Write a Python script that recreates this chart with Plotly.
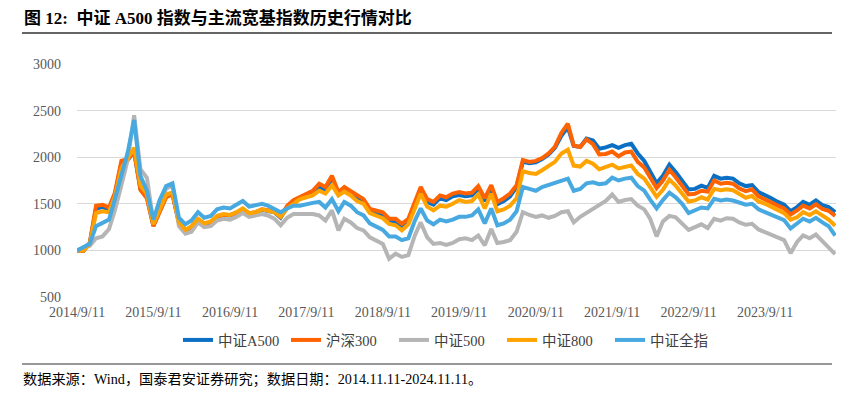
import plotly.graph_objects as go

# ---------------- data (monthly readings, normalised to 1000) ----------------
dates = [f"{2014 + (8 + i) // 12}-{(8 + i) % 12 + 1:02d}-11" for i in range(120)]

a500 = [1000, 995, 1075, 1450, 1465, 1440, 1600, 1930, 1970, 2060,
        1660, 1570, 1265, 1420, 1580, 1605, 1295, 1215, 1250, 1330,
        1285, 1300, 1360, 1380, 1375, 1400, 1440, 1395, 1405, 1435,
        1425, 1410, 1350, 1465, 1520, 1555, 1580, 1615, 1685, 1650,
        1765, 1600, 1650, 1615, 1560, 1520, 1420, 1405, 1385, 1310,
        1310, 1260, 1315, 1495, 1650, 1520, 1490, 1560, 1540, 1580,
        1595, 1580, 1590, 1660, 1530, 1670, 1495, 1530, 1580, 1680,
        1950, 1935, 1945, 1980, 2030, 2100, 2230, 2320, 2120, 2110,
        2200, 2180, 2090, 2105, 2130, 2100, 2130, 2145, 2040, 1960,
        1840, 1720, 1800, 1920, 1840, 1750, 1655, 1660, 1695, 1670,
        1800, 1770, 1780, 1770, 1720, 1690, 1700, 1625, 1595, 1560,
        1520, 1490, 1420, 1465, 1520, 1490, 1535, 1485, 1465, 1410]

hs300 = [1000, 995, 1080, 1480, 1490, 1460, 1620, 1960, 1980, 2060,
         1650, 1560, 1260, 1420, 1570, 1600, 1300, 1220, 1250, 1330,
         1290, 1300, 1360, 1380, 1380, 1400, 1440, 1400, 1410, 1440,
         1430, 1420, 1360, 1480, 1540, 1570, 1600, 1640, 1715, 1680,
         1800, 1625, 1680, 1640, 1590, 1550, 1445, 1430, 1410, 1340,
         1340, 1285, 1340, 1520, 1680, 1550, 1520, 1590, 1570, 1610,
         1625, 1610, 1620, 1690, 1560, 1700, 1520, 1560, 1610, 1700,
         1970, 1950, 1960, 1990, 2040, 2110, 2260, 2360, 2125, 2110,
         2190, 2140, 2030, 2035, 2060, 2010, 2050, 2060, 1950, 1890,
         1790, 1670, 1750, 1865, 1785, 1696, 1600, 1607, 1640, 1630,
         1750, 1715, 1725, 1715, 1665, 1635, 1655, 1580, 1550, 1520,
         1480, 1450, 1385, 1430, 1480, 1450, 1495, 1445, 1425, 1370]

csi500 = [1000, 1030, 1050, 1130, 1150, 1230, 1430, 1700, 1970, 2450,
          1870, 1780, 1300, 1480, 1660, 1700, 1260, 1180, 1200, 1300,
          1250, 1260, 1320, 1340, 1330, 1360, 1400, 1360, 1370, 1390,
          1375, 1340, 1270, 1350, 1390, 1390, 1400, 1390, 1375, 1320,
          1430, 1215, 1340, 1300, 1240, 1215, 1140, 1110, 1070, 910,
          965, 930, 950, 1160, 1300, 1140, 1070, 1080, 1060, 1080,
          1120, 1130, 1110, 1160, 1055, 1230, 1080, 1090, 1110, 1200,
          1410, 1380, 1360, 1375, 1350, 1370, 1410, 1420, 1300, 1360,
          1400, 1440, 1490, 1530, 1600, 1520, 1540, 1550, 1480, 1440,
          1340, 1150, 1310, 1370, 1355, 1286, 1220, 1250, 1280, 1240,
          1340, 1320, 1345, 1340, 1300, 1275, 1285, 1225, 1195, 1165,
          1140, 1110, 970, 1090, 1160, 1130, 1170, 1100, 1045, 960]

csi800 = [1000, 1000, 1070, 1400, 1420, 1410, 1580, 1880, 1990, 2100,
          1700, 1600, 1280, 1430, 1600, 1620, 1300, 1220, 1260, 1340,
          1290, 1310, 1370, 1390, 1380, 1410, 1450, 1400, 1410, 1440,
          1430, 1410, 1360, 1450, 1500, 1550, 1570, 1590, 1640, 1610,
          1700, 1590, 1630, 1590, 1530, 1500, 1400, 1375, 1345, 1285,
          1270, 1215, 1280, 1450, 1610, 1470, 1430, 1480, 1470, 1500,
          1540, 1520, 1530, 1600, 1450, 1610, 1420, 1440, 1480, 1560,
          1850, 1830, 1820, 1860, 1910, 1950, 2040, 2080, 1910, 1900,
          1960, 1930, 1870, 1890, 1920, 1880, 1900, 1910, 1820, 1770,
          1680, 1575, 1650, 1760, 1695, 1607, 1525, 1536, 1570, 1545,
          1660, 1645, 1655, 1645, 1605, 1565, 1585, 1525, 1500, 1465,
          1425, 1400, 1330, 1355, 1410, 1380, 1420, 1370, 1330, 1265]

csiall = [1000, 1040, 1070, 1260, 1290, 1330, 1550, 1800, 2050, 2400,
          1800, 1640, 1330, 1540, 1690, 1720, 1350, 1280, 1320, 1410,
          1350, 1370, 1440, 1460, 1450, 1490, 1530, 1470, 1480, 1500,
          1480, 1450, 1410, 1450, 1480, 1480, 1500, 1510, 1520, 1460,
          1550, 1420, 1520, 1480, 1410, 1375, 1290, 1250, 1220, 1150,
          1150, 1110, 1130, 1320, 1450, 1320, 1280, 1330, 1310, 1330,
          1360, 1360, 1375, 1440, 1290, 1450, 1270, 1290, 1330, 1420,
          1680, 1660, 1640, 1680, 1700, 1720, 1750, 1770, 1640, 1660,
          1720, 1730, 1710, 1720, 1780, 1750, 1770, 1780, 1690, 1640,
          1545, 1450, 1540, 1620, 1570, 1500, 1400, 1429, 1460, 1450,
          1553, 1536, 1545, 1535, 1510, 1490, 1500, 1440, 1410, 1380,
          1355, 1325, 1235, 1285, 1340, 1310, 1350, 1300, 1260, 1160]

series_names = ["中证A500", "沪深300", "中证500", "中证800", "中证全指"]
series_values = [a500, hs300, csi500, csi800, csiall]
series_colors = ["#0B70C4", "#FF6200", "#B5B5B5", "#FFA300", "#48A9E0"]

tick_dates = [f"{y}-09-11" for y in range(2014, 2024)]
tick_text = [f"{y}/9/11" for y in range(2014, 2024)]
y_ticks = [500, 1000, 1500, 2000, 2500, 3000]

# ---------------- layout geometry (screen px; page body adds an 8px offset) ----------------
W, H = 847, 399
OFF = 8
PL, PR, PT, PB = 77, 836, 64, 297           # plot area on screen
L, T = PL - OFF, PT - OFF
R, B = W - (PR - OFF), H - (PB - OFF)
PW, PH = PR - PL, PB - PT


def px(x):
    return (x - PL) / PW


def py(y):
    return (PB - y) / PH


fig = go.Figure()
for name, vals, col in zip(series_names, series_values, series_colors):
    fig.add_trace(go.Scatter(x=dates, y=vals, name=name, mode="lines",
                             line=dict(color=col, width=4)))

serif = "Liberation Serif, Times New Roman, serif"
cjk = "Liberation Serif, Noto Sans CJK SC, serif"

fig.update_layout(
    width=W, height=H,
    margin=dict(l=L, r=R, t=T, b=B, autoexpand=False),
    paper_bgcolor="white", plot_bgcolor="white",
    showlegend=True,
    legend=dict(orientation="h", x=px(178), xanchor="left", y=py(340), yanchor="middle",
                font=dict(family=cjk, size=14.5, color="#404040"),
                itemwidth=30, entrywidth=63, tracegroupgap=0, traceorder="normal"),
    xaxis=dict(type="date", range=["2014-09-11", "2024-08-15"],
               tickvals=tick_dates, ticktext=tick_text,
               showgrid=False, zeroline=False, showline=False, ticks="",
               ticklabelstandoff=5,
               tickfont=dict(family=serif, size=14, color="#595959")),
    yaxis=dict(range=[500, 3000], tickvals=y_ticks, showgrid=True,
               gridcolor="#D9D9D9", gridwidth=1.3, zeroline=False, showline=False,
               ticks="", ticklabelstandoff=15,
               tickfont=dict(family=serif, size=14, color="#595959")),
)

# title, rules and footer
fig.add_annotation(xref="paper", yref="paper", x=px(22), y=py(18), xanchor="left", yanchor="middle",
                   text="<b>图 12:  中证 A500 指数与主流宽基指数历史行情对比</b>", showarrow=False,
                   font=dict(family=cjk, size=17, color="#000000"))
fig.add_shape(type="line", xref="paper", yref="paper", x0=px(22), x1=px(832), y0=py(33), y1=py(33),
              line=dict(color="#333333", width=1.5))
fig.add_shape(type="line", xref="paper", yref="paper", x0=px(22), x1=px(832), y0=py(364), y1=py(364),
              line=dict(color="#333333", width=1.2))
fig.add_annotation(xref="paper", yref="paper", x=px(21), y=py(379), xanchor="left", yanchor="middle",
                   text="数据来源：Wind，国泰君安证券研究；数据日期：2014.11.11-2024.11.11。", showarrow=False,
                   font=dict(family=cjk, size=14.2, color="#000000"))

fig.write_html("out.html")
